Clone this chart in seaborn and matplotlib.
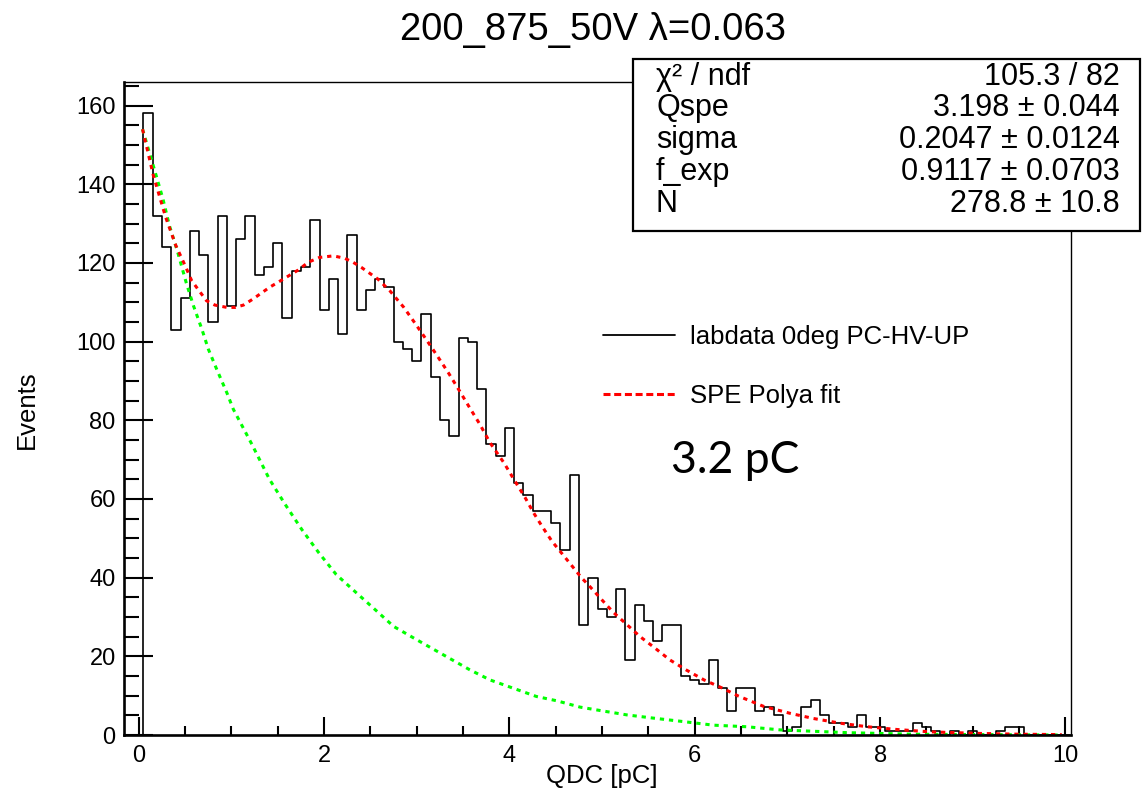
import numpy as np
import pandas as pd
import matplotlib
matplotlib.use("Agg")
import matplotlib.pyplot as plt
import seaborn as sns
from matplotlib.lines import Line2D
from matplotlib.patches import Rectangle
from matplotlib.ticker import MultipleLocator

# ---------------- data ----------------
bin_start = 0.05
bin_width = 0.1
counts = [158, 132, 124, 103, 111, 128, 122, 105, 132, 109,
          126, 132, 117, 119, 125, 106, 118, 119, 131, 108,
          116, 102, 127, 108, 113, 116, 114, 100, 98, 95,
          107, 91, 80, 76, 101, 100, 88, 74, 71, 78,
          64, 61, 57, 57, 54, 47, 66, 28, 40, 32,
          30, 37, 19, 33, 29, 24, 28, 28, 15, 14,
          13, 19, 12, 6, 12, 12, 6, 7, 5, 1,
          2, 7, 9, 5, 3, 3, 2, 5, 2, 2,
          1, 1, 1, 3, 2, 1, 0, 1, 0, 1,
          0, 0, 1, 2, 2, 0, 0, 0, 0, 0]

polya_x = [0.04, 0.155, 0.29, 0.40, 0.50, 0.57, 0.73, 0.82, 0.95, 1.04,
           1.13, 1.23, 1.41, 1.56, 1.72, 1.83, 1.95, 2.10, 2.22, 2.31,
           2.40, 2.49, 2.58, 2.71, 2.86, 2.98, 3.10, 3.22, 3.34, 3.45,
           3.56, 3.68, 3.79, 3.94, 4.06, 4.17, 4.26, 4.35, 4.46, 4.55,
           4.65, 4.78, 4.85, 4.98, 5.12, 5.27, 5.41, 5.57, 5.73, 5.91,
           6.10, 6.29, 6.47, 6.74, 7.03, 7.28, 7.57, 7.86, 8.18, 8.54,
           9.08, 9.50, 9.96]
polya_y = [154.0, 142.4, 131.6, 124.4, 119.3, 115.5, 110.4, 109.3, 108.7, 108.7,
           109.3, 110.8, 113.8, 115.9, 118.2, 120.2, 121.4, 121.8, 121.2, 120.2,
           118.9, 117.4, 115.9, 112.9, 108.7, 104.7, 100.6, 96.4, 92.1, 87.9,
           83.6, 79.0, 74.3, 69.2, 64.5, 60.3, 56.5, 53.1, 49.2, 46.6,
           43.7, 39.9, 38.2, 34.8, 31.2, 28.0, 25.0, 22.1, 19.1, 16.5,
           14.0, 12.0, 9.9, 7.3, 5.5, 4.2, 3.0, 2.1, 1.4, 0.8,
           0.4, 0.2, 0.1]

exp_x = [0.04, 0.155, 0.26, 0.33, 0.42, 0.51, 0.59, 0.68, 0.75, 0.84,
         0.95, 1.02, 1.22, 1.41, 1.58, 1.76, 1.94, 2.13, 2.35, 2.53,
         2.75, 3.00, 3.57, 3.79, 4.04, 4.29, 4.51, 4.76, 5.01, 5.27,
         5.55, 5.88, 6.20, 6.56, 6.92, 7.64, 8.36, 9.96]
exp_y = [154.0, 144.8, 136.3, 129.5, 122.7, 115.1, 109.1, 103.2, 98.1, 93.0,
         87.0, 82.8, 73.9, 65.0, 58.6, 52.2, 46.4, 40.8, 36.1, 32.3,
         27.6, 24.2, 16.6, 14.0, 11.9, 9.8, 8.7, 7.1, 6.1, 5.1,
         4.3, 3.4, 2.5, 2.1, 1.3, 0.6, 0.2, 0.0]

x_ticks = [0, 2, 4, 6, 8, 10]
y_ticks = [0, 20, 40, 60, 80, 100, 120, 140, 160]

title = "200_875_50V λ=0.063"
x_title = "QDC [pC]"
y_title = "Events"
legend_labels = ["labdata 0deg PC-HV-UP", "SPE Polya fit"]
stat_names = ["χ² / ndf", "Qspe", "sigma", "f_exp", "N"]
stat_values = ["105.3 / 82", "3.198 ± 0.044", "0.2047 ± 0.0124",
               "0.9117 ± 0.0703", "278.8 ± 10.8"]
note = "3.2 pC"

# ---------------- figure ----------------
sns.set_style("white")
plt.rcParams["font.family"] = ["Liberation Sans", "DejaVu Sans"]
for key in ["text.color", "axes.labelcolor", "xtick.color", "ytick.color",
            "axes.edgecolor"]:
    plt.rcParams[key] = "black"

W, H = 1143, 799
fig = plt.figure(figsize=(W / 100, H / 100), dpi=100)


def fx(px):
    return px / W


def fy(py):
    return 1 - py / H


ax = fig.add_axes([fx(124), fy(735), fx(1071) - fx(124), fy(82) - fy(735)])

n_bins = len(counts)
centers = bin_start + bin_width * (np.arange(n_bins) + 0.5)
df = pd.DataFrame({"QDC": centers, "Events": counts})
# one extra (empty) bin on the left so the outline rises from zero
sns.histplot(data=df, x="QDC", weights="Events", bins=n_bins + 1,
             binrange=(bin_start - bin_width, bin_start + bin_width * n_bins),
             element="step", fill=False, color="black", linewidth=1.2, ax=ax)

sns.lineplot(x=exp_x, y=exp_y, color="#00ff00", linewidth=2.2,
             linestyle=(0, (1.4, 1.6)), ax=ax, sort=False)
sns.lineplot(x=polya_x, y=polya_y, color="#ff0000", linewidth=2.2,
             linestyle=(0, (1.4, 1.6)), ax=ax, sort=False)

ax.set_xlim(-0.16, 10.06)
ax.set_ylim(0, 166)
ax.set_xticks(x_ticks)
ax.set_yticks(y_ticks)
ax.xaxis.set_minor_locator(MultipleLocator(0.5))
ax.yaxis.set_minor_locator(MultipleLocator(5))
ax.set_xlabel("")
ax.set_ylabel("")
ax.tick_params(axis="x", which="major", direction="in", length=13, width=1.5,
               labelsize=17, pad=7, bottom=True, top=False, colors="black")
ax.tick_params(axis="x", which="minor", direction="in", length=6.5, width=1.5,
               bottom=True, top=False, colors="black")
ax.tick_params(axis="y", which="major", direction="in", length=21, width=1.5,
               labelsize=17, pad=6, left=True, right=False, colors="black")
ax.tick_params(axis="y", which="minor", direction="in", length=10.8, width=1.5,
               left=True, right=False, colors="black")
for s in ["left", "bottom"]:
    ax.spines[s].set_linewidth(1.9)
    ax.spines[s].set_color("black")
for s in ["top", "right"]:
    ax.spines[s].set_linewidth(1.0)
    ax.spines[s].set_color("black")
    ax.spines[s].set_visible(True)

# titles
fig.text(fx(593), fy(30), title, ha="center", va="center", fontsize=27.5)
fig.text(fx(602), fy(776), x_title, ha="center", va="center", fontsize=18.5)
fig.text(fx(27), fy(410), y_title, ha="center", va="center", rotation=90,
         fontsize=18.5)

# legend
handles = [Line2D([], [], color="black", linewidth=1.3),
           Line2D([], [], color="#ff0000", linewidth=2.2,
                  linestyle=(0, (2.3, 1.2)))]
fig.legend(handles, legend_labels, loc="upper left",
           bbox_to_anchor=(fx(603), fy(325)), frameon=False, fontsize=18.5,
           handlelength=2.8, handletextpad=0.6, labelspacing=1.35,
           borderpad=0, borderaxespad=0)

# annotation
fig.text(fx(671), fy(473), note, ha="left", va="baseline", fontsize=32,
         family=["Lato", "DejaVu Sans"], color="black")

# stats box
box = Rectangle((fx(633), fy(231)), fx(1140) - fx(633), fy(59) - fy(231),
                transform=fig.transFigure, facecolor="white",
                edgecolor="black", linewidth=1.6, zorder=5)
fig.add_artist(box)
baselines = [85, 116, 148, 180, 212]
for name, val, b in zip(stat_names, stat_values, baselines):
    fig.text(fx(656), fy(b), name, ha="left", va="baseline", fontsize=22,
             zorder=6)
    fig.text(fx(1120), fy(b), val, ha="right", va="baseline", fontsize=22,
             zorder=6)

fig.savefig("out.png", dpi=100)
